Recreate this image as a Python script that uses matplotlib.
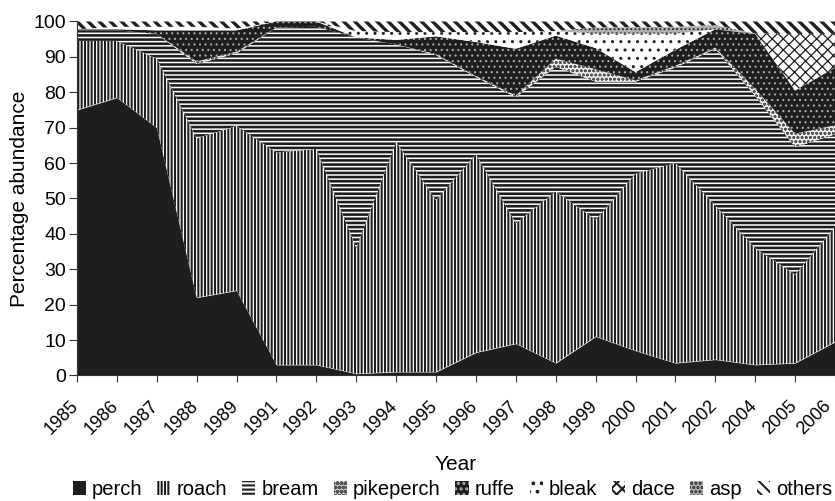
import numpy as np
import matplotlib
matplotlib.use('Agg')
import matplotlib.pyplot as plt
from matplotlib.patches import Patch
from matplotlib.transforms import ScaledTranslation

plt.rcParams['font.family'] = ['Liberation Sans', 'DejaVu Sans']
plt.rcParams['hatch.linewidth'] = 1.5

years = ['1985', '1986', '1987', '1988', '1989', '1991', '1992', '1993', '1994', '1995',
         '1996', '1997', '1998', '1999', '2000', '2001', '2002', '2004', '2005', '2006']

# percentage of each species per year (stacked bottom to top)
perch = [75, 78.5, 70, 22, 24, 3, 3, 0.5, 1, 1, 6.5, 9, 3.5, 11, 7, 3.5, 4.5, 3, 3.5, 9.5]
roach = [19.5, 16, 19.5, 45, 46.5, 60, 61, 35.5, 65, 48.5, 56, 34, 48.5, 33, 50, 56.5, 43.5, 33, 25, 32.5]
bream = [3, 3, 7, 21, 20.5, 35.3, 34.5, 59.5, 27.5, 41, 21.8, 35.6, 35.2, 39, 26, 27, 44.3, 43, 36, 26.1]
pikeperch = [0, 0, 0, 0.7, 0.5, 0, 0, 0, 0, 0.3, 0.3, 0.5, 2.3, 3.5, 0.4, 0.5, 0.3, 2, 3.8, 2.6]
ruffe = [0.3, 0.3, 1, 8.8, 6, 1.7, 1.5, 0, 1.3, 5, 9.6, 13.2, 6.5, 6, 2.3, 4.5, 5.2, 15.5, 12.2, 16.3]
bleak = [0, 0.7, 1, 1, 0.5, 0, 0, 1.8, 2.2, 1.2, 2.8, 4.7, 1.3, 4.1, 10.9, 4.6, 0, 0, 0, 0]
dace = [0, 0, 0, 0, 0, 0, 0, 0, 0, 0, 0, 0, 0, 0, 0, 0, 0, 0.1, 16, 9.5]
asp = [0, 0, 0, 0, 0, 0, 0, 0, 0, 0, 0, 0, 0, 1.7, 1.8, 1.9, 1.2, 0, 0, 0]
others = [2.2, 1.5, 1.5, 1.5, 2, 0, 0, 2.7, 3, 3, 3, 3, 2.7, 1.7, 1.6, 1.5, 1, 3.4, 3.5, 3.5]

series = [perch, roach, bream, pikeperch, ruffe, bleak, dace, asp, others]
names = ['perch', 'roach', 'bream', 'pikeperch', 'ruffe', 'bleak', 'dace', 'asp', 'others']

# (facecolor, hatch colour, hatch, hatch linewidth) for each species
styles = [
    ('#1e1e1e', '#1e1e1e', None, 1.0),
    ('white', '#1e1e1e', '|||||', 1.5),
    ('white', '#1e1e1e', '----', 1.9),
    ('#eeeeee', '#555555', 'oooo', 0.8),
    ('#1e1e1e', '#aaaaaa', '...', 0.8),
    ('white', '#1e1e1e', '..', 1.0),
    ('white', '#1e1e1e', 'xxx', 0.9),
    ('#b0b0b0', '#1e1e1e', '....', 0.8),
    ('white', '#1e1e1e', '\\\\\\', 2.4),
]

fig = plt.figure(figsize=(8.35, 5.01), dpi=100)
ax = fig.add_axes([0.0922, 0.2505, 0.9078, 0.7066])

x = np.arange(len(years))
bottom = np.zeros(len(years))
for vals, (fc, hc, h, hlw) in zip(series, styles):
    top = bottom + np.array(vals)
    coll = ax.fill_between(x, bottom, top, facecolor=fc, edgecolor=hc, hatch=h, linewidth=0)
    if hasattr(coll, 'set_hatch_linewidth'):
        coll.set_hatch_linewidth(hlw)
    bottom = top

ax.set_xlim(0, len(years) - 1)
ax.set_ylim(0, 100)
ax.set_yticks(range(0, 101, 10))
ax.set_xticks(x)

for s in ['top', 'right']:
    ax.spines[s].set_visible(False)
for s in ['left', 'bottom']:
    ax.spines[s].set_color('#333333')
ax.tick_params(axis='y', length=6, color='#333333', labelsize=14, pad=2)
ax.tick_params(axis='x', length=5, color='#333333', pad=11)

# tick_params resets label transforms, so shift the labels afterwards
ax.set_xticklabels(years, rotation=45, ha='right', va='top', rotation_mode='anchor', fontsize=13)
xlabels = ax.get_xticklabels()
for i, lbl in enumerate(xlabels):
    shift = -0.13 if i == len(xlabels) - 1 else -0.07
    lbl.set_transform(lbl.get_transform() + ScaledTranslation(shift, 0, fig.dpi_scale_trans))

ax.set_ylabel('Percentage abundance', fontsize=15, labelpad=3)
ax.set_xlabel('Year', fontsize=15, labelpad=12)

handles = []
for fc, hc, h, hlw in styles:
    p = Patch(facecolor=fc, edgecolor=hc, hatch=h, linewidth=0)
    if hasattr(p, 'set_hatch_linewidth'):
        p.set_hatch_linewidth(min(hlw, 1.0))
    handles.append(p)
fig.legend(handles, names, loc='lower center', bbox_to_anchor=(0.542, -0.032), ncol=9,
           frameon=False, fontsize=14.5, handlelength=0.65, handleheight=0.65,
           handletextpad=0.3, columnspacing=0.75)

plt.savefig('out.png', dpi=100)
plt.close()
